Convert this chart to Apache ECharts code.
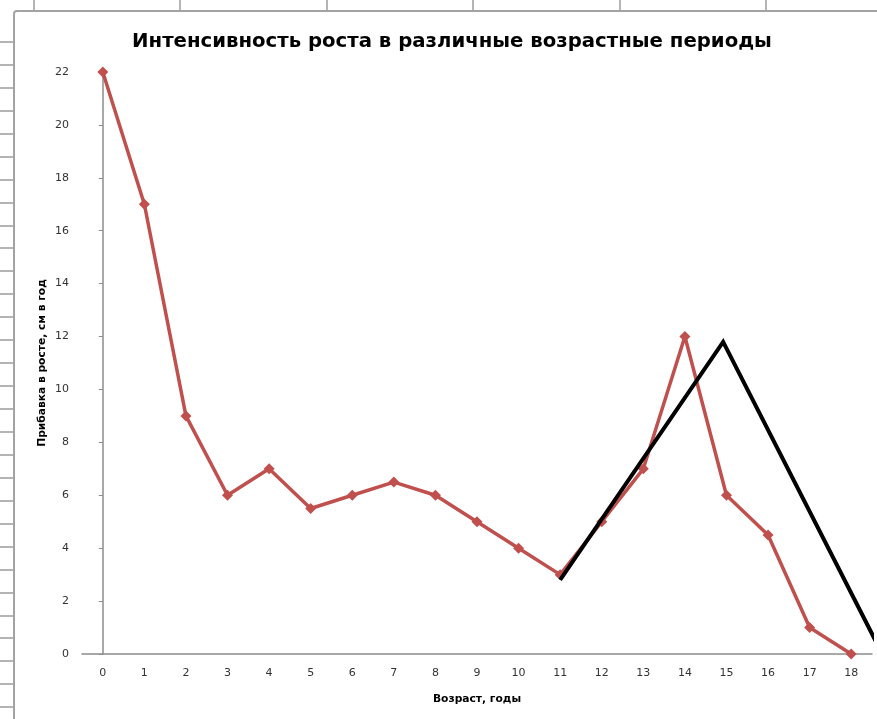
<!DOCTYPE html>
<html>
<head>
<meta charset="utf-8">
<title>Интенсивность роста</title>
<script src="https://cdn.jsdelivr.net/npm/echarts@6/dist/echarts.min.js"></script>
<style>
  html, body { margin: 0; padding: 0; background: #fff; }
  body { width: 877px; height: 719px; overflow: hidden; position: relative; }
  .cell-v { position: absolute; top: 0; width: 2px; height: 11px; background: #b4b4b4; }
  .cell-h { position: absolute; left: 0; width: 13px; height: 2px; background: #b4b4b4; }
  #frame { position: absolute; left: 13px; top: 10px; width: 900px; height: 800px;
           border: 2px solid #a3a3a3; border-radius: 4px; background: #fff; }
  #chart { position: absolute; left: 0; top: 0; width: 877px; height: 719px; }
</style>
</head>
<body>
<div id="frame"></div>
<div id="chart"></div>
<script>
// Age in years (category axis)
const ages = ['0','1','2','3','4','5','6','7','8','9','10','11','12','13','14','15','16','17','18'];
// Yearly height gain, cm per year
const gain = [22, 17, 9, 6, 7, 5.5, 6, 6.5, 6, 5, 4, 3, 5, 7, 12, 6, 4.5, 1, 0];
// Hand-drawn black trend line: [age, cm]
const trendX = [11, 14.92, 18.65];
const trendY = [2.8, 11.8, 0.3];

const titleText = 'Интенсивность роста в различные возрастные периоды';
const xName = 'Возраст, годы';
const yName = 'Прибавка в росте, см в год';

// spreadsheet cell lines around the embedded chart
(function drawSheet() {
  for (let k = 0; k < 6; k++) {
    const d = document.createElement('div');
    d.className = 'cell-v';
    d.style.left = (33 + k * 146.4) + 'px';
    document.body.insertBefore(d, document.body.firstChild);
  }
  for (let k = 0; k < 30; k++) {
    const d = document.createElement('div');
    d.className = 'cell-h';
    d.style.top = (41 + k * 22.94) + 'px';
    document.body.insertBefore(d, document.body.firstChild);
  }
})();

const chart = echarts.init(document.getElementById('chart'), null, { renderer: 'canvas' });

const axisColor = '#8c8c8c';
const labelStyle = { fontFamily: 'DejaVu Sans', fontSize: 11, color: '#333' };
const nameStyle = { fontFamily: 'DejaVu Sans', fontSize: 10.7, fontWeight: 'bold', color: '#000' };

chart.setOption({
  animation: false,
  backgroundColor: 'transparent',
  title: {
    text: titleText,
    left: 447,
    top: 27,
    textAlign: 'center',
    textStyle: { fontFamily: 'DejaVu Sans', fontSize: 19.7, fontWeight: 'bold', color: '#000' }
  },
  grid: { left: 82, right: 5, top: 72, bottom: 65, containLabel: false },
  xAxis: [
    {
      type: 'category',
      data: ages,
      boundaryGap: true,
      axisLine: { lineStyle: { color: axisColor, width: 1.5 } },
      axisTick: { show: false },
      axisLabel: Object.assign({ margin: 14, interval: 0 }, labelStyle),
      splitLine: { show: false },
      name: xName,
      nameLocation: 'middle',
      nameGap: 40,
      nameMoveOverlap: false,
      nameTextStyle: nameStyle
    },
    {
      type: 'value',
      min: -0.5,
      max: 18.5,
      show: false
    }
  ],
  yAxis: {
    type: 'value',
    min: 0,
    max: 22,
    interval: 2,
    axisLine: { show: true, lineStyle: { color: axisColor, width: 1.5 } },
    axisTick: { show: true, length: 4, lineStyle: { color: axisColor } },
    axisLabel: Object.assign({ margin: 13 }, labelStyle),
    splitLine: { show: false },
    name: yName,
    nameLocation: 'middle',
    nameGap: 34,
    nameRotate: 90,
    nameMoveOverlap: false,
    nameTextStyle: nameStyle
  },
  series: [
    {
      type: 'line',
      data: gain,
      xAxisIndex: 0,
      color: '#c0504d',
      lineStyle: { width: 3.5, color: '#c0504d' },
      symbol: 'diamond',
      symbolSize: 11,
      itemStyle: { color: '#c0504d' },
      z: 2
    },
    {
      type: 'line',
      xAxisIndex: 1,
      data: trendX.map((x, i) => [x, trendY[i]]),
      symbol: 'none',
      clip: false,
      lineStyle: { width: 4, color: '#000', cap: 'butt', join: 'miter' },
      z: 3
    }
  ]
});
</script>
</body>
</html>
